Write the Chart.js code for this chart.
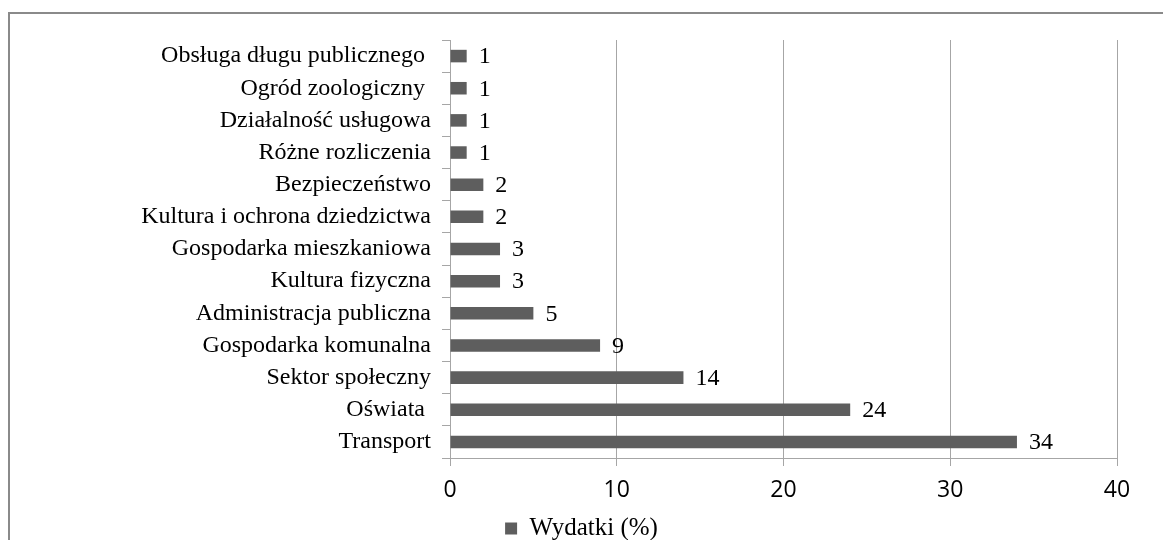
<!DOCTYPE html>
<html>
<head>
<meta charset="utf-8">
<script src="https://cdn.jsdelivr.net/npm/chart.js"></script>
<style>
  html, body { margin: 0; padding: 0; background: #fff; overflow: hidden; }
  #frame { position: absolute; left: 8px; top: 12px; width: 1170px; height: 540px;
           border-top: 2px solid #8a8a8a; border-left: 2px solid #8a8a8a; }
  #wrap { position: absolute; left: 0; top: 0; width: 1163px; height: 551px; }
</style>
</head>
<body>
<div id="frame"></div>
<div id="wrap"><canvas id="myChart"></canvas></div>
<script>
// wydatki wg działów, top -> bottom
var categories = ['Obsługa długu publicznego ', 'Ogród zoologiczny ', 'Działalność usługowa', 'Różne rozliczenia',
  'Bezpieczeństwo', 'Kultura i ochrona dziedzictwa', 'Gospodarka mieszkaniowa', 'Kultura fizyczna',
  'Administracja publiczna', 'Gospodarka komunalna', 'Sektor społeczny', 'Oświata ', 'Transport'];
var wydatki = [1, 1, 1, 1, 2, 2, 3, 3, 5, 9, 14, 24, 34];
var xTicks = [0, 10, 20, 30, 40];

var serif = '"Liberation Serif", "Times New Roman", serif';
var barColor = '#5e5e5e';

// numbers to the right of bars
var valueLabels = {
  id: 'valueLabels',
  afterDatasetsDraw: function(chart) {
    var ctx = chart.ctx;
    var meta = chart.getDatasetMeta(0);
    ctx.save();
    ctx.font = '24px ' + serif;
    ctx.fillStyle = '#000';
    ctx.textBaseline = 'middle';
    ctx.textAlign = 'left';
    meta.data.forEach(function(bar, i) {
      ctx.fillText(String(wydatki[i]), bar.x + 12, bar.y + 1);
    });
    ctx.restore();
  }
};

var ctx = document.getElementById('myChart').getContext('2d');
var chart = new Chart(ctx, {
  type: 'bar',
  data: {
    labels: categories,
    datasets: [{
      label: 'Wydatki (%)',
      data: wydatki,
      backgroundColor: barColor,
      borderWidth: 0,
      barPercentage: 0.39,
      categoryPercentage: 1
    }]
  },
  options: {
    indexAxis: 'y',
    responsive: true,
    maintainAspectRatio: false,
    animation: false,
    layout: { padding: { top: 40, right: 46, left: 46, bottom: 0 } },
    plugins: {
      legend: {
        position: 'bottom',
        labels: {
          font: { family: serif, size: 25 },
          color: '#000',
          boxWidth: 12,
          boxHeight: 12,
          padding: 1
        }
      },
      tooltip: { enabled: false }
    },
    scales: {
      x: {
        min: 0,
        max: 40,
        afterBuildTicks: function(scale) {
          scale.ticks = xTicks.map(function(v) { return { value: v }; });
        },
        afterFit: function(scale) { scale.height = 57; },
        grid: { color: '#a6a6a6', lineWidth: 1, tickLength: 8, drawTicks: true },
        border: { color: '#a6a6a6' },
        ticks: {
          font: { family: '"Open Sans", sans-serif', size: 23 },
          color: '#000',
          padding: 11,
          maxRotation: 0
        }
      },
      y: {
        afterFit: function(scale) { scale.width = 404; },
        grid: { drawOnChartArea: false, color: '#a6a6a6', tickLength: 8 },
        border: { color: '#a6a6a6' },
        ticks: {
          font: { family: serif, size: 24 },
          color: '#000',
          padding: 11,
          autoSkip: false
        }
      }
    }
  },
  plugins: [valueLabels]
});
</script>
</body>
</html>
